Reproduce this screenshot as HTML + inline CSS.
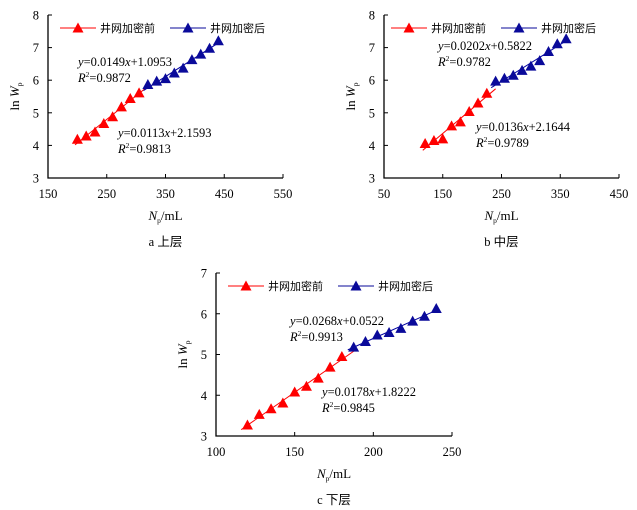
<!DOCTYPE html>
<html><head><meta charset="utf-8"><style>
html,body{margin:0;padding:0;background:#fff;}
svg{display:block;}
text{font-family:"Liberation Serif","Noto Serif CJK SC",serif;fill:#000;}
.cn{font-family:"Liberation Serif","Noto Sans CJK SC",sans-serif;}
</style></head><body>
<svg id="s" width="637" height="510" viewBox="0 0 637 510" xmlns="http://www.w3.org/2000/svg"></svg>
<script>
// ---- chart a (upper layer) ----
const aRedX=[200,215,230,245,260,275,290,305];
const aRedY=[4.19,4.29,4.41,4.67,4.88,5.18,5.44,5.61];
const aBlueX=[320,335,350,365,380,395,410,425,440];
const aBlueY=[5.87,5.97,6.05,6.22,6.37,6.63,6.8,6.98,7.21];
const aXTicks=[150,250,350,450,550];
const aYTicks=[3,4,5,6,7,8];
// ---- chart b (middle layer) ----
const bRedX=[120,135,150,165,180,195,210,225];
const bRedY=[4.06,4.15,4.2,4.6,4.72,5.04,5.3,5.6];
const bBlueX=[240,255,270,285,300,315,330,345,360];
const bBlueY=[5.97,6.06,6.15,6.3,6.43,6.6,6.88,7.12,7.27];
const bXTicks=[50,150,250,350,450];
const bYTicks=[3,4,5,6,7,8];
// ---- chart c (lower layer) ----
const cRedX=[120,127.5,135,142.5,150,157.5,165,172.5,180];
const cRedY=[3.27,3.53,3.67,3.81,4.08,4.22,4.42,4.69,4.95];
const cBlueX=[187.5,195,202.5,210,217.5,225,232.5,240];
const cBlueY=[5.18,5.32,5.48,5.54,5.64,5.82,5.94,6.13];
const cXTicks=[100,150,200,250];
const cYTicks=[3,4,5,6,7];

const NS="http://www.w3.org/2000/svg";
const svg=document.getElementById('s');
function mk(tag,attrs,parent){const e=document.createElementNS(NS,tag);for(const k in attrs)e.setAttribute(k,attrs[k]);(parent||svg).appendChild(e);return e;}
function fit(xs,ys){const n=xs.length;let sx=0,sy=0,sxx=0,sxy=0;for(let i=0;i<n;i++){sx+=xs[i];sy+=ys[i];sxx+=xs[i]*xs[i];sxy+=xs[i]*ys[i];}const m=(n*sxy-sx*sy)/(n*sxx-sx*sx);return [m,(sy-m*sx)/n];}
function tri(g,cx,cy,col){const p=mk('polygon',{points:`${cx},${cy-5.5} ${cx-5.5},${cy+4.5} ${cx+5.5},${cy+4.5}`,fill:col},g);return p;}

function chart(o){
  const g=mk('g',{});
  
  
  const X=v=>o.x0+(v-o.xt[0])/(o.xt[o.xt.length-1]-o.xt[0])*(o.x1-o.x0);
  const Y=v=>o.y1-(v-o.yt[0])/(o.yt[o.yt.length-1]-o.yt[0])*(o.y1-o.y0);
  const ax=mk('path',{d:`M${o.x0},${o.y0} V${o.y1} H${o.x1}`,stroke:'#000','stroke-width':1.3,fill:'none'},g);
  
  
  o.xt.forEach(v=>{mk('line',{x1:X(v),x2:X(v),y1:o.y1,y2:o.y1-4,stroke:'#000'},g);
    const t=mk('text',{x:X(v),y:o.y1+20,'text-anchor':'middle','font-size':12.5},g);t.textContent=v;
    
    });
  o.yt.forEach(v=>{mk('line',{x1:o.x0,x2:o.x0+4,y1:Y(v),y2:Y(v),stroke:'#000'},g);
    const t=mk('text',{x:o.x0-9,y:Y(v)+4.5,'text-anchor':'end','font-size':12.5},g);t.textContent=v;
    
    });
  const fr=fit(o.rx,o.ry),fb=fit(o.bx,o.by);
  const rxa=o.rx[0]-4,rxb=o.bx[0];
  const l1=mk('line',{x1:X(rxa),y1:Y(fr[0]*rxa+fr[1]),x2:X(rxb),y2:Y(fr[0]*rxb+fr[1]),stroke:'#f00','stroke-width':1},g);
  
  
  const bxa=o.rx[o.rx.length-1]+(o.bx[0]-o.rx[o.rx.length-1])/2,bxb=o.bx[o.bx.length-1];
  const l2=mk('line',{x1:X(bxa),y1:Y(fb[0]*bxa+fb[1]),x2:X(bxb),y2:Y(fb[0]*bxb+fb[1]),stroke:'#0000a0','stroke-width':1},g);
  
  
  o.rx.forEach((v,i)=>{const p=tri(g,X(v),Y(o.ry[i]),'#f00');
    
    });
  o.bx.forEach((v,i)=>{const p=tri(g,X(v),Y(o.by[i]),'#0a0a9a');
    
    });
  const ly=o.y0+13;
  [[o.lr,'#f00','井网加密前','legend-before'],[o.lb,'#0a0a9a','井网加密后','legend-after']].forEach(([lx,c,txt,nm])=>{
    const lg=mk('g',{},g);
    
    
    mk('line',{x1:lx,x2:lx+36,y1:ly,y2:ly,stroke:c,'stroke-width':1},lg);
    tri(lg,lx+18,ly,c);
    const t=mk('text',{x:lx+40,y:ly+4,'font-size':11,class:'cn'},lg);t.textContent=txt;
  });
  o.eq.forEach(([ex,ey,eq,r2])=>{
    const t=mk('text',{x:ex,y:ey,'font-size':12.5},g);
    t.innerHTML=eq;
    
    
    const r=mk('text',{x:ex,y:ey+16,'font-size':12.5},g);
    r.innerHTML='<tspan font-style="italic">R</tspan><tspan font-size="7.5" dy="-5">2</tspan><tspan dy="5">='+r2+'</tspan>';
    
    
  });
  const yl=mk('text',{transform:`translate(${o.x0-29},${(o.y0+o.y1)/2}) rotate(-90)`,'text-anchor':'middle','font-size':13},g);
  yl.innerHTML='ln <tspan font-style="italic">W</tspan><tspan font-size="7.5" dy="3">p</tspan>';
  
  
  const xl=mk('text',{x:(o.x0+o.x1)/2,y:o.y1+42,'text-anchor':'middle','font-size':13},g);
  xl.innerHTML='<tspan font-style="italic">N</tspan><tspan font-size="7.5" dy="3">p</tspan><tspan dy="-3">/mL</tspan>';
  
  
  const cp=mk('text',{x:(o.x0+o.x1)/2,y:o.y1+68,'text-anchor':'middle','font-size':12.5,class:'cn'},g);
  cp.textContent=o.cap;
  
  
}
const it=s=>'<tspan font-style="italic">'+s+'</tspan>';
chart({name:'chart-upper',x0:48,x1:283,y0:15,y1:178,xt:aXTicks,yt:aYTicks,rx:aRedX,ry:aRedY,bx:aBlueX,by:aBlueY,lr:60,lb:170,
  eq:[[78,66,it('y')+'=0.0149'+it('x')+'+1.0953','0.9872'],[118,137,it('y')+'=0.0113'+it('x')+'+2.1593','0.9813']],cap:'a  上层'});
chart({name:'chart-middle',x0:384,x1:619,y0:15,y1:178,xt:bXTicks,yt:bYTicks,rx:bRedX,ry:bRedY,bx:bBlueX,by:bBlueY,lr:391,lb:501,
  eq:[[438,50,it('y')+'=0.0202'+it('x')+'+0.5822','0.9782'],[476,131,it('y')+'=0.0136'+it('x')+'+2.1644','0.9789']],cap:'b  中层'});
chart({name:'chart-lower',x0:216,x1:452,y0:273,y1:436,xt:cXTicks,yt:cYTicks,rx:cRedX,ry:cRedY,bx:cBlueX,by:cBlueY,lr:228,lb:338,
  eq:[[290,325,it('y')+'=0.0268'+it('x')+'+0.0522','0.9913'],[322,396,it('y')+'=0.0178'+it('x')+'+1.8222','0.9845']],cap:'c  下层'});
</script>
</body></html>
